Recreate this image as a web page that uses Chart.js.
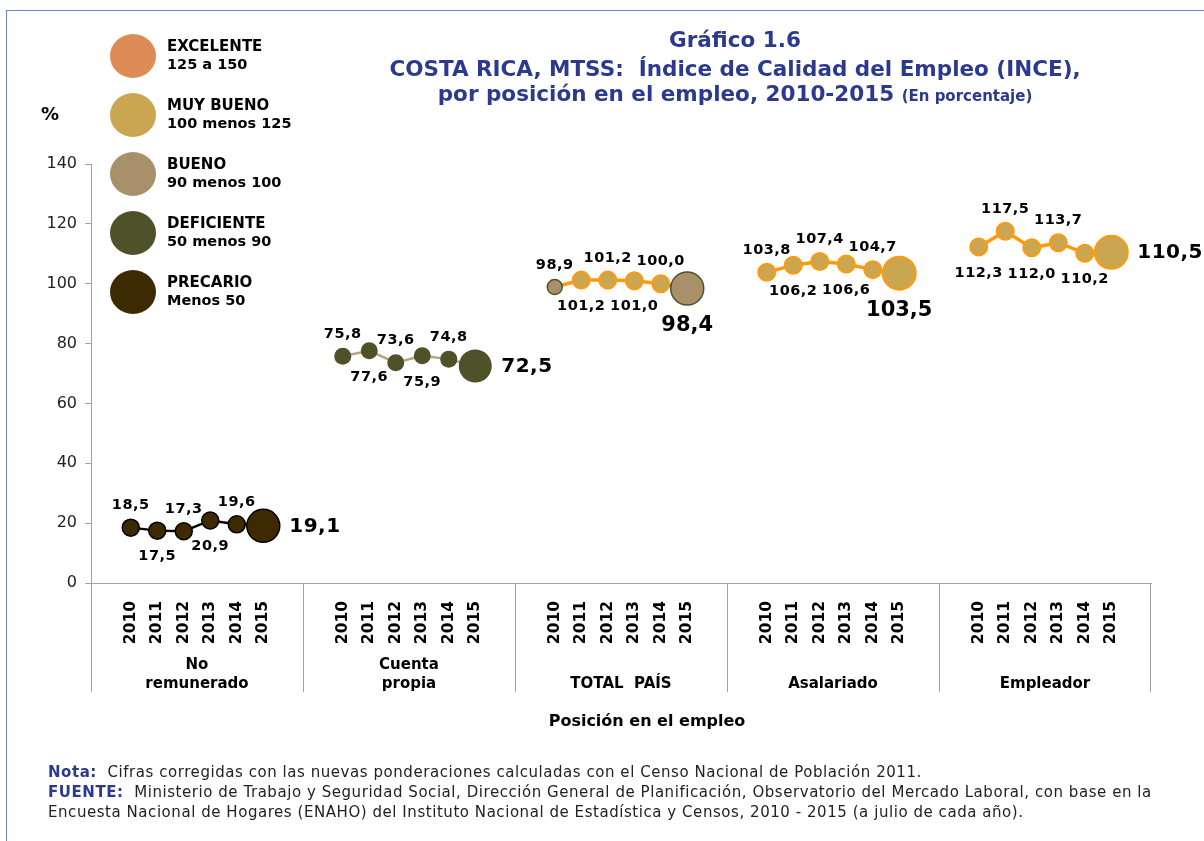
<!DOCTYPE html>
<html>
<head>
<meta charset="utf-8">
<script src="https://cdn.jsdelivr.net/npm/chart.js@4.4.1/dist/chart.umd.min.js"></script>
<style>
  body { margin: 0; background: #fff; font-family: "DejaVu Sans", sans-serif; }
  #wrap { position: relative; width: 1204px; height: 841px; overflow: hidden; }
  #frame { position: absolute; left: 6px; top: 10px; width: 1300px; height: 900px;
           border-left: 1px solid #7384C4; border-top: 1px solid #7384C4; }
  canvas { position: absolute; left: 0; top: 0; }
  .title { position: absolute; left: 335px; width: 800px; text-align: center; color: #2B3A8E;
           font-weight: bold; font-size: 21.5px; white-space: nowrap; }
  .title small { font-size: 15px; }
  .leg { position: absolute; left: 110px; }
  .leg .dot { position: absolute; left: 0; top: 0; width: 46px; height: 44px; border-radius: 50%; }
  .leg .t1 { position: absolute; left: 57px; top: 3px; font-weight: bold; font-size: 15px; white-space: nowrap; }
  .leg .t2 { position: absolute; left: 57px; top: 22px; font-weight: bold; font-size: 14.5px; white-space: nowrap; }
  #pct { position: absolute; left: 41px; top: 103px; font-weight: bold; font-size: 18px; }
  #xtitle { position: absolute; left: 447px; width: 400px; top: 711px; text-align: center; font-weight: bold; font-size: 16px; }
  #notes { position: absolute; left: 48px; top: 762px; font-size: 15px; letter-spacing: 0.55px; line-height: 20px; color: #222; white-space: nowrap; }
  #notes b { color: #2B3A8E; }
</style>
</head>
<body>
<div id="wrap">
  <div id="frame"></div>
  <canvas id="inceChart" width="1204" height="841"></canvas>

  <div class="title" style="top:27px">Gráfico 1.6</div>
  <div class="title" style="top:56px">COSTA RICA, MTSS:&nbsp; Índice de Calidad del Empleo (INCE),</div>
  <div class="title" style="top:81px">por posición en el empleo, 2010-2015 <small>(En porcentaje)</small></div>

  <div id="legend"></div>
  <div id="pct">%</div>
  <div id="xtitle">Posición en el empleo</div>
  <div id="notes">
    <div><b>Nota:</b>&nbsp; Cifras corregidas con las nuevas ponderaciones calculadas con el Censo Nacional de Población 2011.</div>
    <div><b>FUENTE:</b>&nbsp; Ministerio de Trabajo y Seguridad Social, Dirección General de Planificación, Observatorio del Mercado Laboral, con base en la</div>
    <div>Encuesta Nacional de Hogares (ENAHO) del Instituto Nacional de Estadística y Censos, 2010 - 2015 (a julio de cada año).</div>
  </div>
</div>

<script>
// ---- data ----
const categories = ["No\nremunerado", "Cuenta\npropia", "TOTAL  PAÍS", "Asalariado", "Empleador"];
const years = ["2010", "2011", "2012", "2013", "2014", "2015"];
const yTicks = [0, 20, 40, 60, 80, 100, 120, 140];

const noRemunerado = [18.5, 17.5, 17.3, 20.9, 19.6, 19.1];
const cuentaPropia = [75.8, 77.6, 73.6, 75.9, 74.8, 72.5];
const totalPais    = [98.9, 101.2, 101.2, 101.0, 100.0, 98.4];
const asalariado   = [103.8, 106.2, 107.4, 106.6, 104.7, 103.5];
const empleador    = [112.3, 117.5, 112.0, 113.7, 110.2, 110.5];

const legendNames  = ["EXCELENTE", "MUY BUENO", "BUENO", "DEFICIENTE", "PRECARIO"];
const legendRanges = ["125 a 150", "100 menos 125", "90 menos 100", "50 menos 90", "Menos 50"];
const legendColors = ["#DE8C55", "#C9A64F", "#A8916A", "#4F5229", "#3E2A02"];

const series = [noRemunerado, cuentaPropia, totalPais, asalariado, empleador];

// where each value label goes: a = above, b = below, r = right (big), B = below (big)
const labelPos = [
    ["a", "b", "a", "b", "a", "r"],
    ["a", "b", "a", "b", "a", "r"],
    ["a", "b", "a", "b", "a", "B"],
    ["a", "b", "a", "b", "a", "B"],
    ["b", "a", "b", "a", "b", "r"]
];
const lineColors = ["#000000", "#B9A47E", "#FF9A10", "#FF9A10", "#FF9A10"];

// ---- legend (html) ----
const legendBox = document.getElementById("legend");
legendNames.forEach((name, i) => {
    const el = document.createElement("div");
    el.className = "leg";
    el.style.top = (34 + i * 59) + "px";
    el.innerHTML = `<div class="dot" style="background:${legendColors[i]}"></div>
                    <div class="t1">${name}</div><div class="t2">${legendRanges[i]}</div>`;
    legendBox.appendChild(el);
});

function levelColor(v) {
    if (v >= 125) return legendColors[0];
    if (v >= 100) return legendColors[1];
    if (v >= 90) return legendColors[2];
    if (v >= 50) return legendColors[3];
    return legendColors[4];
}
function levelBorder(v) {
    if (v >= 100) return "#FF9A10";
    if (v >= 50) return "#4F5229";
    return "#000000";
}

// 8 slots per group: blank, six years, blank
const slot = years.length + 2;
let labels = [];
categories.forEach(() => {
    labels.push("");
    years.forEach(y => labels.push(y));
    labels.push("");
});

const datasets = series.map((vals, g) => {
    let data = new Array(labels.length).fill(null);
    let radius = [], bg = [], bc = [], bw = [];
    vals.forEach((v, i) => {
        const idx = g * slot + 1 + i;
        data[idx] = v;
        const last = i === vals.length - 1;
        radius[idx] = last ? 16.5 : (v < 100 && v >= 90 ? 7.5 : 8.5);
        bg[idx] = levelColor(v);
        bc[idx] = levelBorder(v);
        bw[idx] = v >= 100 ? 2 : (v >= 50 && v < 90 ? 0 : 1.5);
    });
    return {
        label: categories[g],
        data: data,
        borderColor: lineColors[g],
        borderWidth: g < 2 ? 2.5 : 3.5,
        pointRadius: radius,
        pointHoverRadius: radius,
        pointBackgroundColor: bg,
        pointBorderColor: bc,
        pointBorderWidth: bw,
        spanGaps: false,
        clip: false,
        segment: {
            borderColor: ctx => {
                const v = ctx.p1.parsed.y;
                if (g >= 2 && v < 100) return "#4F5229";
                return lineColors[g];
            }
        }
    };
});

function fmt(v) {
    return v.toFixed(1).replace(".", ",");
}

const valueLabels = {
    id: "valueLabels",
    afterDatasetsDraw(chart) {
        const ctx = chart.ctx;
        ctx.save();
        ctx.fillStyle = "#000";
        ctx.textBaseline = "middle";
        chart.data.datasets.forEach((ds, g) => {
            const meta = chart.getDatasetMeta(g);
            series[g].forEach((v, i) => {
                const pt = meta.data[g * slot + 1 + i];
                const pos = labelPos[g][i];
                if (pos === "a" || pos === "b") {
                    ctx.font = "bold 14.5px 'DejaVu Sans'";
                    ctx.letterSpacing = "0.5px";
                    ctx.textAlign = "center";
                    ctx.fillText(fmt(v), pt.x, pt.y + (pos === "a" ? -22 : 26));
                } else if (pos === "r") {
                    ctx.font = "bold 20px 'DejaVu Sans'";
                    ctx.letterSpacing = "0.5px";
                    ctx.textAlign = "left";
                    ctx.fillText(fmt(v), pt.x + 26, pt.y + 1);
                } else {
                    ctx.font = "bold 21px 'DejaVu Sans'";
                    ctx.letterSpacing = "0px";
                    ctx.textAlign = "center";
                    ctx.fillText(fmt(v), pt.x, pt.y + 37);
                }
            });
        });
        ctx.restore();
    }
};

const groupAxis = {
    id: "groupAxis",
    afterDraw(chart) {
        const ctx = chart.ctx;
        const x = chart.scales.x;
        const half = (x.getPixelForTick(1) - x.getPixelForTick(0)) / 2;
        const top = chart.chartArea.bottom;
        ctx.save();
        ctx.strokeStyle = "#A0A0A0";
        ctx.lineWidth = 1;
        for (let g = 0; g <= categories.length; g++) {
            const px = g < categories.length
                ? Math.round(x.getPixelForTick(g * slot) - half) + 0.5
                : Math.round(x.getPixelForTick(labels.length - 1) + half) - 0.5;
            ctx.beginPath();
            ctx.moveTo(px, top);
            ctx.lineTo(px, top + 109);
            ctx.stroke();
        }
        ctx.fillStyle = "#000";
        ctx.font = "bold 15px 'DejaVu Sans'";
        ctx.textAlign = "center";
        ctx.textBaseline = "middle";
        categories.forEach((name, g) => {
            const cx = (x.getPixelForTick(g * slot + 3) + x.getPixelForTick(g * slot + 4)) / 2;
            const lines = name.split("\n");
            if (lines.length === 2) {
                ctx.fillText(lines[0], cx, top + 82);
                ctx.fillText(lines[1], cx, top + 101);
            } else {
                ctx.fillText(lines[0], cx, top + 101);
            }
        });
        ctx.restore();
    }
};

new Chart(document.getElementById("inceChart"), {
    type: "line",
    data: { labels: labels, datasets: datasets },
    options: {
        responsive: false,
        animation: false,
        events: [],
        layout: { padding: { top: 164, right: 53, left: 0, bottom: 0 } },
        plugins: {
            legend: { display: false },
            tooltip: { enabled: false }
        },
        scales: {
            x: {
                type: "category",
                offset: true,
                grid: { display: false },
                border: { color: "#A0A0A0", width: 1 },
                ticks: {
                    autoSkip: false,
                    maxRotation: 90,
                    minRotation: 90,
                    padding: 10,
                    color: "#000",
                    font: { family: "DejaVu Sans", size: 15.5, weight: "bold" }
                },
                afterFit: scale => { scale.height = 258; }
            },
            y: {
                min: 0,
                max: 140,
                grid: { drawOnChartArea: false, drawTicks: true, tickLength: 6, color: "#A0A0A0" },
                border: { color: "#A0A0A0", width: 1 },
                ticks: {
                    padding: 8,
                    color: "#222",
                    font: { family: "DejaVu Sans", size: 16 }
                },
                afterBuildTicks: axis => { axis.ticks = yTicks.map(v => ({ value: v })); },
                afterFit: scale => { scale.width = 91; }
            }
        }
    },
    plugins: [valueLabels, groupAxis]
});
</script>
</body>
</html>
